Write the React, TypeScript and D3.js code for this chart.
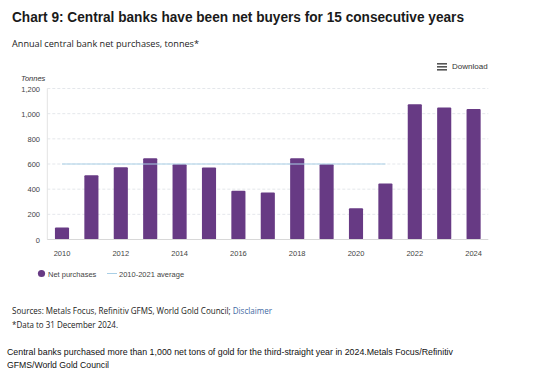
import React from "react";
import * as d3 from "d3";

const years = [2010, 2011, 2012, 2013, 2014, 2015, 2016, 2017, 2018, 2019, 2020, 2021, 2022, 2023, 2024];
const netPurchases = [95, 511, 575, 646, 599, 572, 387, 373, 646, 599, 249, 445, 1075, 1049, 1038];
const averageValue = 600;
const averageYears = [2010, 2021];
const yTicks = [0, 200, 400, 600, 800, 1000, 1200];
const xTickYears = [2010, 2012, 2014, 2016, 2018, 2020, 2022, 2024];

const W = 549;
const H = 372;
const M = { left: 47.3, right: 488.3, top: 88.5, bottom: 239.5 };
const PURPLE = "#673a84";

export default function App() {
  const x = d3.scaleBand<number>().domain(years).range([M.left, M.right]).paddingInner(0.52).paddingOuter(0.26);
  const y = d3.scaleLinear().domain([0, 1200]).range([M.bottom, M.top]);
  const fmt = d3.format(",");
  const cx = (yr: number) => (x(yr) as number) + x.bandwidth() / 2;
  const sans = "'Liberation Sans', Arial, sans-serif";
  const open = "'Open Sans', sans-serif";

  return (
    <div style={{ position: "fixed", left: 0, top: 0, width: W, height: H, background: "#fff" }}>
      <svg width={W} height={H} style={{ display: "block" }}>
        <text x={12} y={21.5} fontFamily={sans} fontWeight="bold" fontSize={14} fill="#1a1a1a" textLength={452} lengthAdjust="spacingAndGlyphs">
          Chart 9: Central banks have been net buyers for 15 consecutive years
        </text>
        <text x={12} y={47} fontFamily={open} fontSize={9.3} fill="#222" textLength={187} lengthAdjust="spacingAndGlyphs">
          Annual central bank net purchases, tonnes*
        </text>

        {/* Download */}
        <g fill="#555">
          {[0, 3, 6].map((d) => (
            <rect key={d} x={437} y={63 + d} width={10} height={1.6} />
          ))}
        </g>
        <text x={452} y={69} fontFamily={sans} fontSize={8} fill="#333">Download</text>

        <text x={21} y={81} fontFamily={sans} fontStyle="italic" fontSize={7.5} fill="#333">Tonnes</text>

        {/* grid */}
        {yTicks.map((t) => (
          <g key={t}>
            {t > 0 && (
              <line x1={M.left} x2={M.right} y1={y(t)} y2={y(t)} stroke="#dde1e6" strokeWidth={0.8} strokeDasharray="3,2" />
            )}
            <text x={40} y={y(t) + 3} textAnchor="end" fontFamily={sans} fontSize={7.5} fill="#444">
              {fmt(t)}
            </text>
          </g>
        ))}
        <line x1={M.left} x2={M.left} y1={M.top} y2={M.bottom} stroke="#e3e3e3" strokeWidth={1} />

        {/* bars */}
        {years.map((yr, i) => (
          <rect
            key={yr}
            x={x(yr)}
            y={y(netPurchases[i])}
            width={x.bandwidth()}
            height={M.bottom - y(netPurchases[i])}
            fill={PURPLE}
            rx={1}
          />
        ))}
        <line x1={M.left} x2={M.right} y1={M.bottom} y2={M.bottom} stroke="#d8d8d8" strokeWidth={1.2} />

        {/* average line */}
        <line
          x1={cx(averageYears[0])}
          x2={cx(averageYears[1])}
          y1={y(averageValue)}
          y2={y(averageValue)}
          stroke="#a9cfe6"
          strokeWidth={1}
        />

        {xTickYears.map((yr) => (
          <text key={yr} x={cx(yr)} y={256} textAnchor="middle" fontFamily={sans} fontSize={7.5} fill="#444">
            {yr}
          </text>
        ))}

        {/* legend */}
        <circle cx={41.5} cy={273.5} r={3.6} fill={PURPLE} />
        <text x={48} y={276.5} fontFamily={sans} fontSize={7.5} fill="#444">Net purchases</text>
        <line x1={107} x2={117} y1={273.5} y2={273.5} stroke="#a9cfe6" strokeWidth={1} />
        <text x={119} y={276.5} fontFamily={sans} fontSize={7.5} fill="#444">2010-2021 average</text>

        {/* sources */}
        <text x={12} y={314} fontFamily={open} fontSize={8.2} fill="#222" textLength={260} lengthAdjust="spacingAndGlyphs">
          Sources: Metals Focus, Refinitiv GFMS, World Gold Council;{" "}
          <tspan fill="#3f6aa3">Disclaimer</tspan>
        </text>
        <text x={12} y={328} fontFamily={open} fontSize={8.2} fill="#222" textLength={106} lengthAdjust="spacingAndGlyphs">*Data to 31 December 2024.</text>

        <text x={7} y={355} fontFamily={sans} fontSize={9.5} fill="#111" textLength={446} lengthAdjust="spacingAndGlyphs">
          Central banks purchased more than 1,000 net tons of gold for the third-straight year in 2024.Metals Focus/Refinitiv
        </text>
        <text x={7} y={368} fontFamily={sans} fontSize={9.5} fill="#111" textLength={102} lengthAdjust="spacingAndGlyphs">
          GFMS/World Gold Council
        </text>
      </svg>
    </div>
  );
}
